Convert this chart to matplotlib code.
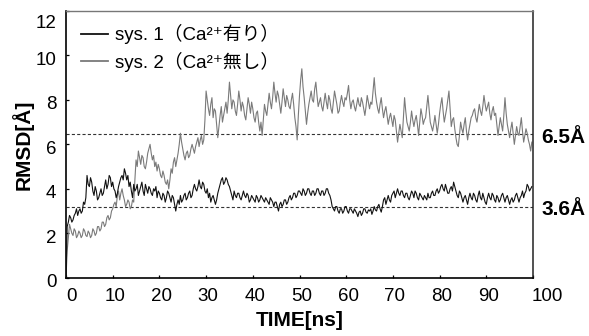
import matplotlib
matplotlib.use('Agg')
import matplotlib.pyplot as plt
import matplotlib.transforms as mtransforms
import numpy as np

plt.rcParams['font.family'] = ['Liberation Sans', 'Noto Sans CJK JP', 'DejaVu Sans']

# sys.1 (with Ca2+) RMSD [Å], sampled every 0.25 ns
sys1_rmsd = [
    0.0, 2.3, 2.5, 2.8, 2.7, 2.5, 2.6, 2.8, 2.9, 3.1, 2.8, 3.0, 3.1, 2.9, 3.0, 3.4, 3.3, 3.6, 4.6, 4.2,
    4.1, 4.5, 4.3, 3.9, 3.7, 4.1, 3.9, 3.5, 3.6, 3.8, 4.0, 3.7, 3.8, 4.1, 4.4, 4.0, 4.2, 4.6, 4.5, 4.1,
    4.3, 4.0, 3.9, 3.6, 3.8, 4.1, 4.3, 4.5, 4.6, 4.4, 4.9, 4.7, 4.4, 4.6, 4.1, 4.3, 3.9, 3.6, 4.2, 3.9,
    4.0, 4.2, 3.7, 3.9, 4.1, 4.3, 3.9, 3.7, 4.2, 4.0, 3.8, 4.1, 4.0, 3.8, 3.7, 4.0, 3.9, 4.1, 3.6, 3.9,
    3.8, 3.6, 3.5, 3.8, 3.7, 3.4, 3.6, 3.9, 3.8, 3.6, 3.4, 3.7, 3.6, 3.3, 3.0, 3.3, 3.5, 3.3, 3.7, 3.4,
    3.5, 3.7, 3.8, 3.5, 3.6, 3.8, 3.9, 3.6, 3.7, 4.0, 4.2, 4.0, 3.9, 4.1, 4.4, 4.1, 4.0, 4.3, 4.2, 3.9,
    3.8, 4.0, 3.6, 3.8, 3.4, 3.6, 3.7, 3.5, 3.3, 3.5, 3.8, 4.0, 4.2, 4.4, 4.5, 4.2, 4.3, 4.5, 4.4, 4.2,
    4.1, 3.9, 3.7, 3.5, 3.9, 3.7, 3.6, 3.8, 3.8, 3.6, 3.5, 3.7, 3.9, 3.7, 3.6, 3.8, 3.7, 3.4, 3.5, 3.7,
    3.6, 3.5, 3.4, 3.7, 3.6, 3.4, 3.5, 3.7, 3.6, 3.5, 3.4, 3.6, 3.5, 3.4, 3.3, 3.6, 3.5, 3.4, 3.2, 3.4,
    3.4, 3.2, 3.0, 3.3, 3.4, 3.2, 3.3, 3.5, 3.5, 3.3, 3.4, 3.6, 3.7, 3.5, 3.6, 3.8, 3.8, 3.6, 3.7, 3.9,
    3.9, 3.8, 3.7, 4.0, 3.9, 3.7, 3.8, 4.0, 4.0, 3.8, 3.7, 3.9, 3.9, 3.7, 3.8, 4.0, 4.0, 3.8, 3.7, 3.9,
    3.9, 3.7, 3.8, 4.0, 4.0, 3.8, 3.7, 3.5, 3.2, 3.1, 3.0, 3.2, 3.2, 3.0, 2.9, 3.1, 3.1, 2.9, 3.0, 3.2,
    3.2, 3.0, 2.9, 3.1, 3.1, 3.0, 2.9, 3.1, 3.0, 2.9, 2.75, 2.95, 3.0, 2.8, 2.9, 3.1, 3.1, 2.95, 2.9, 3.05,
    3.0, 3.1, 2.85, 3.0, 3.2, 3.05, 3.0, 3.2, 3.3, 3.1, 2.95, 3.2, 3.5, 3.6, 3.3, 3.5, 3.7, 3.5, 3.4, 3.7,
    3.8, 3.9, 3.6, 3.8, 4.0, 3.8, 3.7, 3.9, 3.9, 3.7, 3.6, 3.8, 3.8, 3.6, 3.5, 3.7, 3.9, 3.8, 3.6, 3.9,
    3.8, 3.6, 3.5, 3.8, 3.7, 3.6, 3.5, 3.7, 3.6, 3.5, 3.8, 3.6, 3.6, 3.8, 3.9, 3.7, 3.7, 3.9, 4.0, 3.8,
    3.9, 4.1, 4.2, 4.0, 3.9, 4.2, 4.0, 3.8, 3.8, 4.0, 4.1, 3.9, 4.3, 4.1, 3.9, 3.7, 3.6, 3.9, 3.8, 3.6,
    3.4, 3.6, 3.7, 3.5, 3.3, 3.6, 3.8, 3.6, 3.5, 3.8, 3.7, 3.5, 3.4, 3.7, 3.9, 3.6, 3.5, 3.8, 3.6, 3.4,
    3.3, 3.6, 3.8, 3.6, 3.5, 3.8, 3.7, 3.5, 3.4, 3.7, 3.6, 3.4, 3.5, 3.7, 3.8, 3.6, 3.4, 3.6, 3.7, 3.5,
    3.3, 3.5, 3.6, 3.4, 3.5, 3.7, 3.8, 3.6, 3.4, 3.6, 3.7, 3.9, 3.6, 3.8, 3.9, 4.2, 4.1, 3.9, 4.0, 4.1,
]

# sys.2 (without Ca2+) RMSD [Å], sampled every 0.25 ns
sys2_rmsd = [
    0.0, 1.2, 1.8, 2.4, 2.2, 2.0, 1.9, 2.2, 2.1, 1.8, 1.9, 2.1, 2.0, 1.8, 1.9, 2.2, 2.1, 1.9, 1.85, 2.1,
    2.0, 1.8, 1.9, 2.2, 2.1, 1.9, 2.0, 2.3, 2.3, 2.1, 2.2, 2.5, 2.5, 2.3, 2.4, 2.7, 2.8, 2.6, 2.7, 3.0,
    3.1, 3.3, 3.4, 3.2, 3.7, 3.9, 3.5, 3.8, 4.0, 3.7, 3.5, 3.2, 3.3, 3.5, 3.4, 3.1, 3.2, 3.5, 3.4, 4.4,
    5.3, 5.0, 5.7, 5.4, 5.1, 5.5, 5.4, 5.0, 4.9, 5.2, 5.6, 5.8, 6.0, 5.6, 5.3, 5.5, 5.0, 5.2, 4.8, 5.1,
    4.9, 4.6, 4.5, 4.8, 4.6, 4.3, 4.2, 4.4, 4.0, 4.4, 4.9, 4.7, 5.2, 5.4, 5.0, 5.3, 5.6, 6.0, 6.5, 6.1,
    5.8, 5.5, 5.3, 5.6, 5.7, 5.4, 5.5, 5.8, 6.0, 5.8, 5.6, 5.9, 6.1, 6.3, 5.9, 6.2, 6.4, 6.0, 6.2, 7.1,
    8.4, 8.0, 7.6, 7.3, 7.8, 8.1, 7.2, 7.6, 7.5, 6.9, 6.3, 6.8, 7.3, 7.7, 7.0, 7.3, 7.6, 7.9, 7.4, 8.0,
    8.8, 8.2, 7.6, 8.0, 7.9, 7.5, 7.3, 7.8, 8.4, 8.0, 7.5, 7.9, 7.7, 7.3, 7.1, 7.6, 8.1, 7.8, 7.4, 7.9,
    7.6, 7.2, 7.0, 7.4, 7.5, 7.0, 6.6, 7.0, 6.4, 7.1, 7.8, 7.5, 7.3, 7.8, 8.3, 7.9, 7.6, 8.1, 8.8, 8.3,
    7.9, 8.4, 8.2, 7.8, 7.4, 7.9, 8.5, 8.1, 7.7, 8.2, 8.0, 7.7, 7.6, 8.0, 8.3, 7.8, 7.2, 6.8, 6.2, 7.3,
    8.2, 8.9, 9.4, 8.6, 8.1, 7.5, 6.9, 7.4, 7.8, 8.1, 8.4, 8.0, 7.9, 8.5, 8.8, 8.2, 7.7, 7.9, 8.1, 7.7,
    7.5, 7.9, 8.3, 7.9, 7.6, 8.2, 8.0, 7.6, 7.4, 7.9, 8.4, 8.1, 7.8, 7.4, 7.5, 7.9, 8.2, 7.9, 7.7, 8.1,
    8.0, 8.3, 8.65, 8.0, 7.6, 7.9, 8.0, 7.7, 7.5, 7.8, 8.1, 7.8, 7.7, 8.1, 7.9, 7.6, 7.3, 7.7, 8.2, 7.9,
    7.6, 7.9, 7.8, 8.4, 9.0, 8.3, 7.9, 7.6, 7.4, 7.8, 8.1, 7.6, 7.2, 7.5, 7.7, 7.3, 6.9, 7.2, 7.4, 7.1,
    6.8, 7.3, 7.1, 6.6, 6.1, 6.5, 6.9, 6.6, 6.3, 7.2, 8.1, 7.5, 7.0, 6.8, 6.6, 7.0, 7.5, 7.1, 6.8, 7.1,
    7.3, 6.9, 6.4, 7.0, 7.6, 7.3, 6.9, 7.1, 7.2, 7.7, 8.2, 7.6, 7.0, 6.8, 6.6, 6.9, 7.3, 6.9, 6.5, 6.9,
    7.4, 7.8, 8.1, 7.5, 7.0, 7.3, 7.6, 8.0, 8.4, 7.6, 6.8, 7.1, 7.2, 6.7, 6.3, 6.0, 5.9, 6.4, 7.0, 6.7,
    6.5, 6.9, 7.2, 6.6, 6.2, 6.6, 6.9, 7.2, 7.3, 7.5, 7.6, 7.2, 7.0, 7.4, 7.8, 7.5, 7.3, 7.7, 8.2, 7.8,
    7.5, 7.7, 7.9, 7.4, 7.1, 7.5, 7.7, 7.3, 7.4, 6.9, 6.4, 6.8, 7.2, 6.9, 6.6, 7.3, 8.1, 7.4, 6.9, 6.6,
    6.3, 6.7, 7.0, 6.5, 6.0, 6.4, 6.8, 6.5, 6.4, 6.8, 7.2, 6.6, 6.1, 6.4, 6.7, 6.5, 6.2, 6.0, 5.7, 6.1,
]

sample_step_ns = 0.25
series_labels = ['sys. 1（Ca²⁺有り）', 'sys. 2（Ca²⁺無し）']
ref_levels = [6.45, 3.2]
ref_labels = ['6.5Å', '3.6Å']
x_ticks = [0, 10, 20, 30, 40, 50, 60, 70, 80, 90, 100]
y_ticks = [0, 2, 4, 6, 8, 10, 12]

t1 = np.arange(len(sys1_rmsd)) * sample_step_ns
t2 = np.arange(len(sys2_rmsd)) * sample_step_ns

W, H = 589, 336
fig = plt.figure(figsize=(W / 100, H / 100), dpi=100)
ax = fig.add_axes([66 / W, 1 - 277.7 / H, (533 - 66) / W, (277.7 - 11) / H])

ax.plot(t1, sys1_rmsd, color='#111111', lw=0.8, label=series_labels[0], zorder=3)
ax.plot(t2, sys2_rmsd, color='#7a7a7a', lw=0.8, label=series_labels[1], zorder=2)

for lvl in ref_levels:
    ax.axhline(lvl, color='#333333', lw=0.8, ls=(0, (2.8, 2.0)), zorder=1)

ax.set_xlim(0, 100)
ax.set_ylim(0, 12)
ax.set_xticks(x_ticks)
ax.set_yticks(y_ticks)
ax.tick_params(direction='in', length=2.5, width=0.9, labelsize=13.5, color='black')
ax.tick_params(axis='x', pad=7.5)
ax.tick_params(axis='y', pad=7)

for side in ['left', 'bottom']:
    ax.spines[side].set_linewidth(1.2)
    ax.spines[side].set_color('black')
ax.spines['right'].set_linewidth(1.1)
ax.spines['right'].set_color('#222222')
ax.spines['top'].set_linewidth(1.0)
ax.spines['top'].set_color('#777777')

ax.set_xlabel('TIME[ns]', fontsize=15, fontweight='bold', labelpad=4.5)
ax.set_ylabel('RMSD[Å]', fontsize=15, fontweight='bold', labelpad=1.5)

fig.canvas.draw()
for lbl, val in zip(ax.get_xticklabels(), x_ticks):
    if val in (0, 100):
        lbl.set_ha('left')
        dx = 0.5 if val == 0 else -1
    else:
        dx = 2
    lbl.set_transform(lbl.get_transform() + mtransforms.ScaledTranslation(dx / 100, 0, fig.dpi_scale_trans))
for lbl, val in zip(ax.get_yticklabels(), y_ticks):
    dy = -10 if val == 12 else -3
    lbl.set_transform(lbl.get_transform() + mtransforms.ScaledTranslation(0, dy / 100, fig.dpi_scale_trans))

for lvl, txt in zip(ref_levels, ref_labels):
    ax.annotate(txt, xy=(1, lvl), xycoords=('axes fraction', 'data'),
                xytext=(8.5, -3), textcoords='offset pixels',
                ha='left', va='center', fontsize=15, fontweight='bold', annotation_clip=False)

leg = ax.legend(loc='upper left', bbox_to_anchor=(0.032, 0.95), frameon=False,
                fontsize=13.5, handlelength=1.42, handletextpad=0.41, labelspacing=0.4,
                borderpad=0, borderaxespad=0)
for h in leg.get_lines():
    h.set_linewidth(1.3)

fig.savefig('out.png', dpi=100)
